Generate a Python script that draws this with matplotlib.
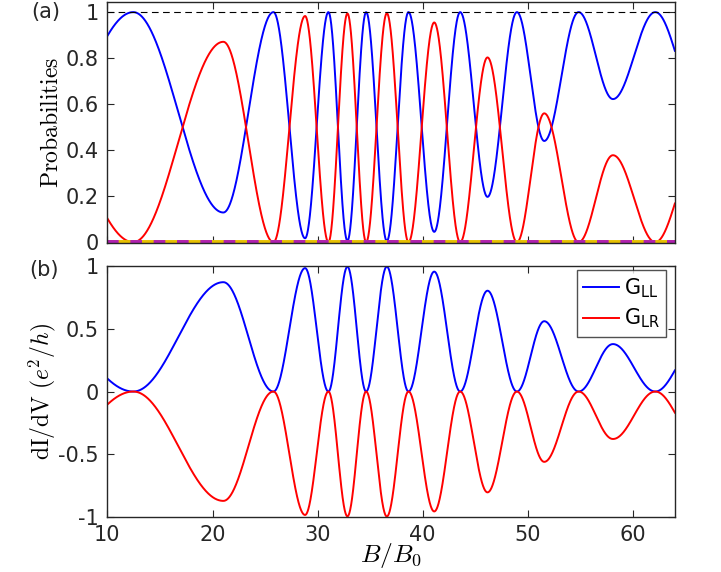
import numpy as np
import matplotlib
matplotlib.use("Agg")
import matplotlib.pyplot as plt
from matplotlib.font_manager import FontProperties

plt.rcParams['font.family'] = ['DejaVu Sans']
plt.rcParams['mathtext.fontset'] = 'cm'

# ---- data ----
# B/B0 positions where the red probability (P_R) vanishes (blue = 1)
zero_B = [12.46, 25.8, 31.03, 34.62, 38.65, 43.57, 48.97, 54.84, 62.14]
# B/B0 positions and values of the red-probability maxima
peak_B = [21.03, 28.81, 32.84, 36.59, 41.1, 46.17, 51.57, 58.11]
peak_P = [0.871, 0.983, 0.994, 0.995, 0.955, 0.803, 0.56, 0.378]
# red probability at the plot edges
edge_B = [10.0, 64.0]
edge_P = [0.103, 0.168]

yticks_a = [0, 0.2, 0.4, 0.6, 0.8, 1]
yticklabels_a = ['0', '0.2', '0.4', '0.6', '0.8', '1']
yticks_b = [-1, -0.5, 0, 0.5, 1]
yticklabels_b = ['-1', '-0.5', '0', '0.5', '1']
xticks = [10, 20, 30, 40, 50, 60]
legend_labels = [r'G$_{\mathrm{LL}}$', r'G$_{\mathrm{LR}}$']

# ---- build the smooth curve through the read extrema ----
kx = sorted(zero_B + peak_B)
kv = [0.0 if b in zero_B else peak_P[peak_B.index(b)] for b in kx]
B = np.linspace(edge_B[0], edge_B[1], 3000)
PR = np.zeros_like(B)
for i in range(len(kx) - 1):
    m = (B >= kx[i]) & (B <= kx[i + 1])
    t = (B[m] - kx[i]) / (kx[i + 1] - kx[i])
    PR[m] = kv[i] + (kv[i + 1] - kv[i]) * (1 - np.cos(np.pi * t)) / 2
# edges: sin^2 shape with half-period of the neighbouring segment
hL = kx[1] - kx[0]
mL = B < kx[0]
AL = edge_P[0] / np.sin(np.pi / 2 * (kx[0] - edge_B[0]) / hL) ** 2
PR[mL] = AL * np.sin(np.pi / 2 * (kx[0] - B[mL]) / hL) ** 2
hR = kx[-1] - kx[-2]
mR = B > kx[-1]
AR = edge_P[1] / np.sin(np.pi / 2 * (edge_B[1] - kx[-1]) / hR) ** 2
PR[mR] = AR * np.sin(np.pi / 2 * (B[mR] - kx[-1]) / hR) ** 2
PL = 1 - PR

# ---- figure ----
fig = plt.figure(figsize=(7.21, 5.72), dpi=100)
left, width = 0.149, 0.787
ax1 = fig.add_axes([left, 0.575, width, 0.4215])
ax2 = fig.add_axes([left, 0.096, width, 0.439])

blue = '#0000ff'
red = '#ff0000'
spine_c = '#262626'

ax1.plot(B, PL, color=blue, lw=1.4)
ax1.plot(B, PR, color=red, lw=1.4)
ax1.plot([edge_B[0], edge_B[1]], [1, 1], color='black', lw=0.8, ls=(0, (6, 4)))
ax1.plot([edge_B[0], edge_B[1]], [0, 0], color='#e6c000', lw=2.8)
ax1.plot([edge_B[0], edge_B[1]], [0, 0], color='#b020b0', lw=2.8, ls=(0, (3, 3)))
ax1.set_xlim(10, 64)
ax1.set_ylim(-0.004, 1.044)
ax1.set_yticks(yticks_a)
ax1.set_yticklabels(yticklabels_a)
ax1.set_xticks(xticks)
ax1.set_xticklabels([])
ax1.set_ylabel(r'$\mathrm{Probabilities}$', fontsize=17, labelpad=2)

ax2.plot(B, PR, color=blue, lw=1.4, label=legend_labels[0])
ax2.plot(B, -PR, color=red, lw=1.4, label=legend_labels[1])
ax2.set_xlim(10, 64)
ax2.set_ylim(-1, 1)
ax2.set_yticks(yticks_b)
ax2.set_yticklabels(yticklabels_b)
ax2.set_xticks(xticks)
ax2.set_xticklabels([str(v) for v in xticks])
ax2.set_ylabel(r'$\mathrm{dI/dV}\ (e^2/h)$', fontsize=17, labelpad=0)
ax2.set_xlabel(r'$B/B_0$', fontsize=18.5, labelpad=-3)

leg = ax2.legend(loc='upper right', bbox_to_anchor=(0.985, 0.985),
                 prop=FontProperties(size=15, math_fontfamily='dejavusans'),
                 frameon=True, fancybox=False, edgecolor=spine_c,
                 handlelength=1.7, handletextpad=0.25, borderpad=0.3,
                 labelspacing=0.35, borderaxespad=0.0)
leg.get_frame().set_linewidth(1.0)

for ax in (ax1, ax2):
    for s in ax.spines.values():
        s.set_color(spine_c)
        s.set_linewidth(1.0)
    ax.tick_params(direction='in', length=5, width=0.8, color=spine_c,
                   top=True, right=True, labelsize=15, labelcolor='#262626', pad=6)

fig.text(0.043, 0.968, '(a)', fontsize=15, color='#262626')
fig.text(0.041, 0.518, '(b)', fontsize=15, color='#262626')

fig.savefig('out.png', dpi=100)
